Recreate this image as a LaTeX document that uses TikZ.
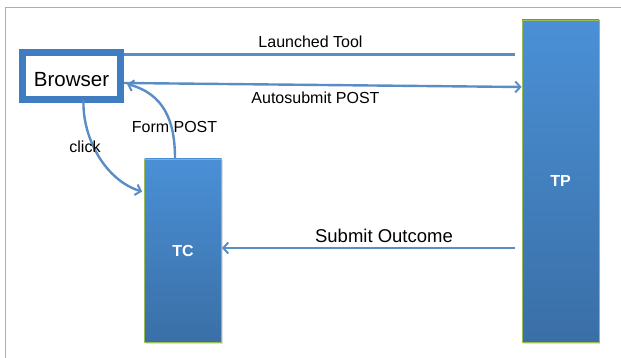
\documentclass[tikz,border=0pt]{standalone}
\usepackage{fontspec}
\setmainfont{Liberation Sans}
\usetikzlibrary{arrows.meta,shadows}

\definecolor{linkblue}{HTML}{5A8CC6}
\definecolor{boxtop}{HTML}{4A90D6}
\definecolor{boxbot}{HTML}{3A6FA6}
\definecolor{boxrim}{HTML}{9BBB59}
\definecolor{framebl}{HTML}{8DB3E2}
\definecolor{browbl}{HTML}{3F7CC0}

\tikzset{
	party/.style={rectangle,draw=boxrim,line width=0.8pt,top color=boxtop,bottom color=boxbot,
		text=white,font=\bfseries\fontsize{16}{18}\selectfont,minimum width=77pt,
		drop shadow={shadow xshift=1pt,shadow yshift=-1.5pt,opacity=0.25}},
	client/.style={rectangle,draw=browbl,line width=7pt,fill=white,minimum width=98pt,minimum height=47pt,
		font=\fontsize{20.5}{22}\selectfont,text height=21pt,text depth=0pt,
		drop shadow={shadow xshift=1pt,shadow yshift=-1.5pt,opacity=0.25}},
	msg/.style={draw=linkblue,line width=2.4pt},
	msgarrow/.style={msg,-{Straight Barb[length=5pt,width=11pt,line width=2pt]}},
	caption/.style={font=\fontsize{16}{18}\selectfont,inner sep=0pt}
}

\begin{document}
\begin{tikzpicture}[x=1pt,y=-1pt]
	\useasboundingbox (0,0) rectangle (621,358);
	\clip (0,0) rectangle (621,358);
	\draw[framebl,line width=1pt] (5,400) -- (5,8) -- (700,8);
	
	\node[client] (browser) at (71.5,76) {Browser};
	\node[party,minimum height=183pt] (tc) at (183,250.5) {TC};
	\node[party,minimum height=322pt] (tp) at (560.5,181) {TP};
	
	\coordinate (ltstart) at ([yshift=-5.5pt]browser.north east);
	\coordinate (ltend) at ([xshift=-7pt]tp.west |- ltstart);
	\coordinate (asstart) at ([yshift=-7pt]browser.east);
	\coordinate (asend) at ([yshift=94pt]tp.west);
	\coordinate (sostart) at ([xshift=-7pt,yshift=2.5pt]tp.west |- tc.east);
	\coordinate (soend) at ([yshift=2.5pt]tc.east);
	\coordinate (clkstart) at ([xshift=12pt,yshift=3pt]browser.south);
	\coordinate (clkend) at ([xshift=-2pt,yshift=-33pt]tc.north west);
	\coordinate (fpstart) at ([xshift=-8pt]tc.north);
	\coordinate (fpend) at ([xshift=3pt,yshift=-8pt]browser.east);
	
	\draw[msg] (ltstart) -- (ltend);
	\draw[msgarrow] (asstart) -- (asend);
	\draw[msgarrow] (sostart) -- (soend);
	\draw[msgarrow] (clkstart) to[out=-92,in=163,looseness=0.9] (clkend);
	\draw[msgarrow] (fpstart) to[out=90,in=-15,looseness=1.1] (fpend);
	
	\node[caption] (ltlabel) at (310.5,42) {Launched Tool};
	\node[caption] (aslabel) at (315.5,98) {Autosubmit POST};
	\node[caption] (fplabel) at (174.5,127) {Form POST};
	\node[caption] (clklabel) at (85,147) {click};
	\node[caption,font=\fontsize{18.5}{20}\selectfont] (solabel) at (384,236) {Submit Outcome};
\end{tikzpicture}
\end{document}
